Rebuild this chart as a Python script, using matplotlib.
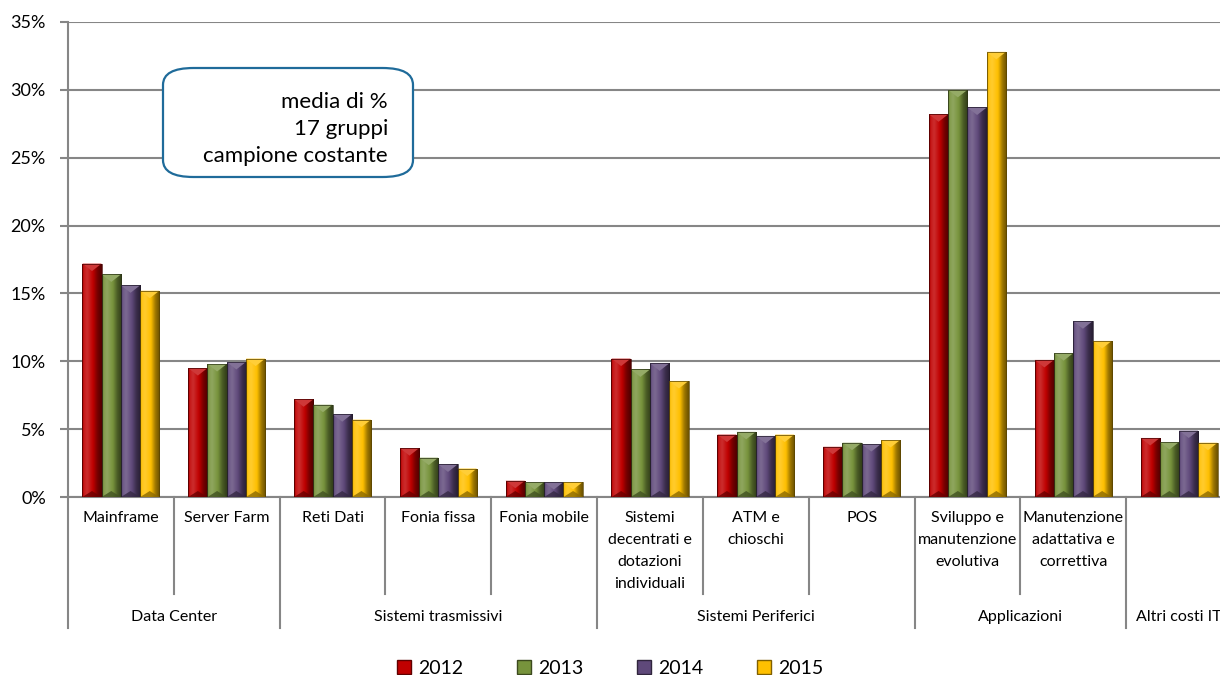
import numpy as np
import matplotlib
matplotlib.use("Agg")
import matplotlib.pyplot as plt
from matplotlib.patches import Patch, FancyBboxPatch, Polygon
from matplotlib.colors import to_rgb
import matplotlib.transforms as mtransforms

plt.rcParams['font.family'] = ['Lato', 'DejaVu Sans']

# ---------------- data ----------------
categories = ["Mainframe", "Server Farm", "Reti Dati", "Fonia fissa", "Fonia mobile",
              "Sistemi\ndecentrati e\ndotazioni\nindividuali", "ATM e\nchioschi", "POS",
              "Sviluppo e\nmanutenzione\nevolutiva", "Manutenzione\nadattativa e\ncorrettiva", ""]
groups = ["Data Center", "Sistemi trasmissivi", "Sistemi Periferici", "Applicazioni", "Altri costi IT"]
group_sizes = [2, 3, 3, 2, 1]
years = ["2012", "2013", "2014", "2015"]
v2012 = [17.2, 9.5, 7.2, 3.6, 1.2, 10.2, 4.6, 3.7, 28.2, 10.1, 4.35]
v2013 = [16.4, 9.8, 6.8, 2.9, 1.1, 9.4, 4.8, 4.0, 30.0, 10.6, 4.05]
v2014 = [15.6, 9.95, 6.1, 2.4, 1.1, 9.85, 4.5, 3.9, 28.7, 12.95, 4.9]
v2015 = [15.2, 10.2, 5.7, 2.1, 1.1, 8.55, 4.6, 4.2, 32.8, 11.5, 4.0]
series = [v2012, v2013, v2014, v2015]
colors = ["#C00000", "#77933C", "#5F497A", "#FFC000"]
yticks = [0, 5, 10, 15, 20, 25, 30, 35]
box_lines = ["media di %", "17 gruppi", "campione costante"]

# ---------------- figure ----------------
W, H = 1220, 675
fig = plt.figure(figsize=(W / 100, H / 100), dpi=100)
x_left, x_right, y_bot, y_top = 68, 1232, 497, 22
ax = fig.add_axes([x_left / W, (H - y_bot) / H, (x_right - x_left) / W, (y_bot - y_top) / H])

n = len(categories)
x = np.arange(n)
bw = 0.182
grid_c = "#868686"

ax.set_xlim(-0.5, n - 0.5)
ax.set_ylim(0, 35)
ax.set_yticks(yticks)
ax.set_yticklabels([f"{t}%" for t in yticks], fontsize=13)
ax.yaxis.grid(True, color=grid_c, lw=1.5)
ax.set_axisbelow(True)
ax.tick_params(axis='y', length=6, width=1.5, color=grid_c, pad=10, labelcolor="#000000")
ax.set_xticks([])
for s in ["top", "right"]:
    ax.spines[s].set_visible(False)
for s in ["left", "bottom"]:
    ax.spines[s].set_color(grid_c)
    ax.spines[s].set_linewidth(1.5)


def shade(rgb, f):
    rgb = np.array(rgb)
    if f >= 1:
        return rgb + (1 - rgb) * (f - 1)
    return rgb * f


t_pts = [0, 0.06, 0.25, 0.55, 0.78, 1.0]
f_pts = [0.7, 1.08, 1.18, 1.0, 0.62, 0.42]
tt = np.linspace(0, 1, 40)
ff = np.interp(tt, t_pts, f_pts)

px_per_unit_y = (y_bot - y_top) / 35.0
bevel_y = 7.5 / px_per_unit_y

for k, (vals, c) in enumerate(zip(series, colors)):
    offs = (k - 1.5) * bw
    bars = ax.bar(x + offs, vals, width=bw, color=c, edgecolor="none", zorder=2)
    base = to_rgb(c)
    img = np.array([[shade(base, f) for f in ff]])
    for b in bars:
        x0, w, h = b.get_x(), b.get_width(), b.get_height()
        im = ax.imshow(img, extent=[x0, x0 + w, 0, h], aspect='auto', zorder=3,
                       interpolation='bicubic')
        im.set_clip_path(b)
        d = min(bevel_y, h / 2)
        top = Polygon([[x0, h], [x0 + w, h], [x0 + w / 2, h - d]], closed=True,
                      facecolor=shade(base, 1.22), edgecolor="none", zorder=4)
        ax.add_patch(top)
        bot = Polygon([[x0, 0], [x0 + w, 0], [x0 + w / 2, d * 0.8]], closed=True,
                      facecolor=shade(base, 0.55), edgecolor="none", zorder=4, alpha=0.8)
        ax.add_patch(bot)
        ax.add_patch(Polygon([[x0, 0], [x0, h], [x0 + w, h], [x0 + w, 0]], closed=True,
                             facecolor="none", edgecolor=shade(base, 0.35), lw=0.5, zorder=5))

# ---------------- category axis ----------------
trans = mtransforms.blended_transform_factory(ax.transData, ax.transAxes)
ax_h = y_bot - y_top
inner_y = -(594 - y_bot) / ax_h
group_y = -(628 - y_bot) / ax_h
lvl1_y = -(511 - y_bot) / ax_h
lvl2_y = -(617 - y_bot) / ax_h

bounds = np.concatenate([[0], np.cumsum(group_sizes)])
group_edges = set(bounds.tolist())
for i in range(n + 1):
    yb = group_y if i in group_edges else inner_y
    ax.plot([i - 0.5, i - 0.5], [0, yb], transform=trans, color=grid_c, lw=1.5,
            clip_on=False, zorder=1)

for i, lab in enumerate(categories):
    ax.text(i, lvl1_y, lab, transform=trans, ha='center', va='top', fontsize=11.5,
            linespacing=1.72, color="#000000")

for g, lab in enumerate(groups):
    cx = (bounds[g] + bounds[g + 1] - 1) / 2
    ax.text(cx, lvl2_y, lab, transform=trans, ha='center', va='center', fontsize=11.5,
            color="#000000")

# ---------------- text box ----------------
bx0, bx1, by0, by1 = 163, 413, 68, 177
box = FancyBboxPatch((bx0 / W, 1 - by1 / H), (bx1 - bx0) / W, (by1 - by0) / H,
                     boxstyle="round,pad=0,rounding_size=0.025", transform=fig.transFigure,
                     facecolor="white", edgecolor="#1F6B9A", lw=1.6, zorder=6)
fig.patches.append(box)
fig.text(388 / W, 1 - 129 / H, "\n".join(box_lines), ha='right', va='center',
         fontsize=16, linespacing=1.42, color="#000000", zorder=7)

# ---------------- legend ----------------
handles = [Patch(facecolor=c, edgecolor=shade(to_rgb(c), 0.5), label=y) for c, y in zip(colors, years)]
fig.legend(handles=handles, loc='center', bbox_to_anchor=(0.5, 1 - 668 / H), ncol=4,
           frameon=False, fontsize=14, handlelength=0.75, handleheight=0.75,
           handletextpad=0.35, columnspacing=2.75)

fig.savefig("out.png", dpi=100)
